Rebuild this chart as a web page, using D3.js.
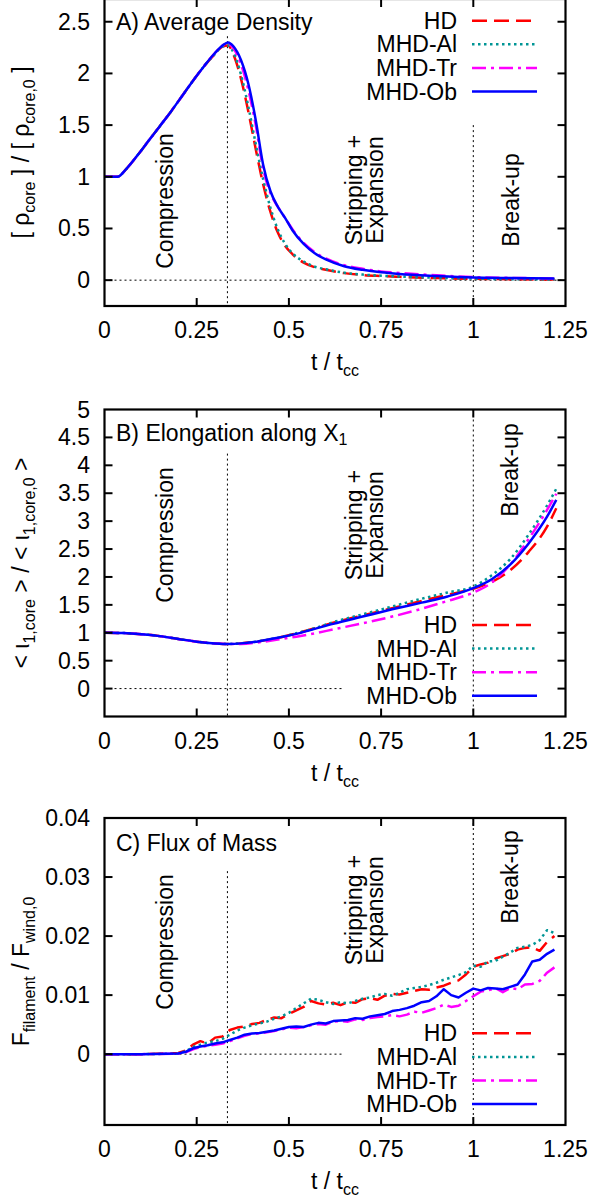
<!DOCTYPE html>
<html><head><meta charset="utf-8">
<script src="https://cdn.jsdelivr.net/npm/d3@7"></script>
<style>
body{margin:0;background:#fff}
text{font-family:"Liberation Sans",Arial,Helvetica,sans-serif;fill:#000}
</style>
</head><body>
<svg id="chart" width="601" height="1200"></svg>
<script>
// ---------- shared ----------
const xTicks = [0, 0.25, 0.5, 0.75, 1, 1.25];
const xTickLabels = ["0", "0.25", "0.5", "0.75", "1", "1.25"];
const seriesNames = ["HD", "MHD-Al", "MHD-Tr", "MHD-Ob"];
const phaseTimes = [1/3, 1];

// ---------- Panel A: average density ----------
const tA = [0, 0.035, 0.06, 0.09, 0.12, 0.15, 0.18, 0.21, 0.24, 0.27, 0.30, 0.32, 0.335, 0.35, 0.37, 0.39, 0.41, 0.43, 0.45, 0.47, 0.49, 0.51, 0.54, 0.57, 0.60, 0.65, 0.70, 0.75, 0.80, 0.90, 1.00, 1.10, 1.22];
const densHD = [1, 1, 1.08, 1.21, 1.35, 1.49, 1.63, 1.78, 1.93, 2.07, 2.19, 2.26, 2.27, 2.18, 1.95, 1.63, 1.27, 0.93, 0.66, 0.46, 0.33, 0.25, 0.17, 0.125, 0.1, 0.068, 0.05, 0.04, 0.032, 0.02, 0.013, 0.009, 0.006];
const densAl = [1, 1, 1.08, 1.21, 1.35, 1.49, 1.63, 1.78, 1.93, 2.07, 2.19, 2.26, 2.27, 2.2, 1.99, 1.68, 1.32, 0.98, 0.7, 0.49, 0.35, 0.26, 0.18, 0.13, 0.105, 0.072, 0.054, 0.043, 0.035, 0.023, 0.015, 0.01, 0.007];
const densTr = [1, 1, 1.08, 1.21, 1.35, 1.49, 1.63, 1.78, 1.93, 2.07, 2.2, 2.27, 2.29, 2.24, 2.09, 1.84, 1.5, 1.08, 0.84, 0.71, 0.6, 0.49, 0.36, 0.27, 0.21, 0.145, 0.11, 0.085, 0.07, 0.048, 0.03, 0.022, 0.017];
const densOb = [1, 1, 1.08, 1.21, 1.35, 1.49, 1.63, 1.78, 1.93, 2.07, 2.2, 2.27, 2.3, 2.26, 2.13, 1.9, 1.55, 1.12, 0.86, 0.71, 0.6, 0.48, 0.35, 0.26, 0.2, 0.135, 0.1, 0.076, 0.06, 0.04, 0.025, 0.02, 0.015];
const yTicksA = [0, 0.5, 1, 1.5, 2, 2.5];
const yTickLabelsA = ["0", "0.5", "1", "1.5", "2", "2.5"];

// ---------- Panel B: elongation ----------
const tB = [0, 0.05, 0.1, 0.15, 0.2, 0.25, 0.3, 0.335, 0.37, 0.42, 0.47, 0.52, 0.57, 0.62, 0.7, 0.78, 0.86, 0.93, 1.0, 1.05, 1.1, 1.15, 1.2, 1.225];
const elonHD = [1, 0.995, 0.975, 0.94, 0.89, 0.84, 0.81, 0.80, 0.81, 0.85, 0.91, 0.99, 1.08, 1.18, 1.31, 1.44, 1.57, 1.68, 1.79, 1.91, 2.12, 2.45, 2.9, 3.23];
const elonAl = [1, 0.995, 0.975, 0.94, 0.89, 0.84, 0.81, 0.80, 0.81, 0.85, 0.91, 0.99, 1.08, 1.19, 1.33, 1.47, 1.61, 1.72, 1.83, 2.03, 2.32, 2.76, 3.28, 3.58];
const elonTr = [1, 0.995, 0.975, 0.94, 0.89, 0.84, 0.81, 0.80, 0.80, 0.83, 0.88, 0.93, 0.99, 1.06, 1.17, 1.29, 1.43, 1.57, 1.72, 1.9, 2.22, 2.68, 3.2, 3.49];
const elonOb = [1, 0.995, 0.975, 0.94, 0.89, 0.84, 0.81, 0.80, 0.81, 0.85, 0.91, 0.98, 1.07, 1.16, 1.29, 1.42, 1.54, 1.65, 1.8, 1.96, 2.22, 2.6, 3.08, 3.38];
const yTicksB = [0, 0.5, 1, 1.5, 2, 2.5, 3, 3.5, 4, 4.5, 5];
const yTickLabelsB = ["0", "0.5", "1", "1.5", "2", "2.5", "3", "3.5", "4", "4.5", "5"];

// ---------- Panel C: mass flux ----------
const tC = [0, 0.1, 0.2, 0.22, 0.24, 0.26, 0.28, 0.30, 0.32, 0.34, 0.36, 0.38, 0.40, 0.42, 0.44, 0.46, 0.48, 0.50, 0.52, 0.54, 0.56, 0.58, 0.60, 0.62, 0.64, 0.66, 0.68, 0.70, 0.72, 0.74, 0.76, 0.78, 0.80, 0.82, 0.84, 0.86, 0.88, 0.90, 0.92, 0.94, 0.96, 0.98, 1.00, 1.02, 1.04, 1.06, 1.08, 1.10, 1.12, 1.14, 1.16, 1.18, 1.20, 1.22];
const fluxHD = [0, 0, 0.0002, 0.0006, 0.0016, 0.0022, 0.0018, 0.0028, 0.0030, 0.0041, 0.0045, 0.0047, 0.0051, 0.0053, 0.0058, 0.0062, 0.0061, 0.0068, 0.0074, 0.0080, 0.0090, 0.0086, 0.0084, 0.0087, 0.0083, 0.0088, 0.0087, 0.0093, 0.0095, 0.0092, 0.0099, 0.0102, 0.0101, 0.0104, 0.0107, 0.0110, 0.0109, 0.0113, 0.0116, 0.0121, 0.0125, 0.0135, 0.0148, 0.0152, 0.0155, 0.0162, 0.0166, 0.0170, 0.0177, 0.0180, 0.0181, 0.0175, 0.0190, 0.0200];
const fluxAl = [0, 0, 0.0001, 0.0005, 0.0012, 0.0016, 0.0020, 0.0022, 0.0026, 0.0033, 0.0040, 0.0045, 0.0049, 0.0052, 0.0055, 0.0060, 0.0064, 0.0070, 0.0078, 0.0086, 0.0094, 0.0092, 0.0088, 0.0085, 0.0088, 0.0086, 0.0090, 0.0094, 0.0096, 0.0100, 0.0102, 0.0099, 0.0104, 0.0110, 0.0112, 0.0114, 0.0117, 0.0121, 0.0126, 0.0130, 0.0134, 0.0139, 0.0150, 0.0148, 0.0157, 0.0158, 0.0165, 0.0172, 0.0180, 0.0182, 0.0185, 0.0193, 0.0210, 0.0205];
const fluxTr = [0, 0, 0.0001, 0.0003, 0.0008, 0.0012, 0.0014, 0.0016, 0.0018, 0.0022, 0.0027, 0.0031, 0.0034, 0.0035, 0.0037, 0.0039, 0.0042, 0.0045, 0.0044, 0.0046, 0.0049, 0.0051, 0.0050, 0.0055, 0.0056, 0.0055, 0.0059, 0.0058, 0.0061, 0.0063, 0.0064, 0.0066, 0.0064, 0.0067, 0.0072, 0.0070, 0.0074, 0.0078, 0.0084, 0.0080, 0.0082, 0.0090, 0.0098, 0.0106, 0.0108, 0.0112, 0.0105, 0.0112, 0.0110, 0.0118, 0.0119, 0.0124, 0.0138, 0.0147];
const fluxOb = [0, 0, 0.0001, 0.0004, 0.0010, 0.0013, 0.0015, 0.0018, 0.0020, 0.0024, 0.0028, 0.0033, 0.0035, 0.0036, 0.0038, 0.0040, 0.0043, 0.0046, 0.0047, 0.0046, 0.0050, 0.0053, 0.0052, 0.0056, 0.0057, 0.0058, 0.0061, 0.0060, 0.0064, 0.0066, 0.0068, 0.0073, 0.0075, 0.0078, 0.0082, 0.0088, 0.0090, 0.0098, 0.0110, 0.0100, 0.0096, 0.0104, 0.0111, 0.0108, 0.0112, 0.0111, 0.0110, 0.0114, 0.0118, 0.0135, 0.0157, 0.0160, 0.0170, 0.0177];
const yTicksC = [0, 0.01, 0.02, 0.03, 0.04];
const yTickLabelsC = ["0", "0.01", "0.02", "0.03", "0.04"];

// ---------- styles ----------
const seriesStyle = [
  {color: "#ff0000", dash: "15,7"},
  {color: "#009595", dash: "2.5,3.5"},
  {color: "#ff00ff", dash: "14,5,3,5"},
  {color: "#0000ff", dash: null}
];
const FONT = 23, SUB = 16;

const svg = d3.select("#chart");
svg.append("rect").attr("width", 601).attr("height", 1200).attr("fill", "#fff");

function rich(sel, parts) {
  parts.forEach(([txt, sub], i) => {
    const prevSub = i > 0 && parts[i-1][1];
    const ts = sel.append("tspan").text(txt);
    if (sub) ts.attr("font-size", SUB).attr("dy", prevSub ? 0 : 6);
    else if (prevSub) ts.attr("dy", -6);
  });
}

function panel(cfg) {
  const x = d3.scaleLinear().domain([0, 1.25]).range([104.5, 565.5]);
  const y = d3.scaleLinear().domain(cfg.yDomain).range(cfg.yRange);
  const g = svg.append("g");
  const [x0, x1] = x.range();
  const yb = cfg.yRange[0], yt = cfg.yRange[1];

  // helper dotted lines
  const dotted = (xa, ya, xb, yb2) => g.append("line").attr("x1", xa).attr("y1", ya).attr("x2", xb).attr("y2", yb2)
    .attr("stroke", "#000").attr("stroke-width", 1).attr("stroke-dasharray", "2,3");
  dotted(x(0), y(0), x(cfg.zeroLineEnd), y(0));
  dotted(x(phaseTimes[0]), y(cfg.phaseTop[0]), x(phaseTimes[0]), yb);
  dotted(x(phaseTimes[1]), y(cfg.phaseTop[1]), x(phaseTimes[1]), yb);

  // phase labels
  const vtext = (cx, cy, lines) => {
    lines.forEach((ln, i) => {
      g.append("text").attr("transform", `translate(${cx + (i - (lines.length-1)/2) * 21},${cy}) rotate(-90)`)
        .attr("text-anchor", "middle").attr("dominant-baseline", "central")
        .attr("font-size", FONT).text(ln);
    });
  };
  vtext(cfg.phasePos[0][0], cfg.phasePos[0][1], ["Compression"]);
  vtext(cfg.phasePos[1][0], cfg.phasePos[1][1], ["Stripping +", "Expansion"]);
  vtext(cfg.phasePos[2][0], cfg.phasePos[2][1], ["Break-up"]);

  // series
  const line = d3.line().x(d => x(d[0])).y(d => y(d[1])).curve(cfg.curve);
  cfg.series.forEach((vals, i) => {
    const pts = cfg.t.map((t, j) => [t, vals[j]]);
    const p = g.append("path").attr("d", line(pts)).attr("fill", "none")
      .attr("stroke", seriesStyle[i].color).attr("stroke-width", 2.5).attr("stroke-linejoin", "round");
    if (seriesStyle[i].dash) p.attr("stroke-dasharray", seriesStyle[i].dash);
  });

  // legend
  seriesNames.forEach((nm, i) => {
    const ly = cfg.legendY + i * 23.6;
    g.append("text").attr("x", 457).attr("y", ly).attr("text-anchor", "end")
      .attr("dominant-baseline", "central").attr("font-size", FONT).text(nm);
    const l = g.append("line").attr("x1", 472).attr("x2", 537).attr("y1", ly).attr("y2", ly)
      .attr("stroke", seriesStyle[i].color).attr("stroke-width", 2.5);
    if (seriesStyle[i].dash) l.attr("stroke-dasharray", seriesStyle[i].dash);
  });

  // frame
  g.append("rect").attr("x", x0).attr("y", yt).attr("width", x1 - x0).attr("height", yb - yt)
    .attr("fill", "none").attr("stroke", "#000").attr("stroke-width", 2.2);

  // ticks
  const T = 8;
  xTicks.forEach((v, i) => {
    const xx = x(v);
    if (v > 0 && v < 1.25) {
      g.append("line").attr("x1", xx).attr("x2", xx).attr("y1", yb).attr("y2", yb - T).attr("stroke", "#000").attr("stroke-width", 2);
      g.append("line").attr("x1", xx).attr("x2", xx).attr("y1", yt).attr("y2", yt + T).attr("stroke", "#000").attr("stroke-width", 2);
    }
    g.append("text").attr("x", xx).attr("y", yb + 24).attr("text-anchor", "middle")
      .attr("dominant-baseline", "central").attr("font-size", FONT).text(xTickLabels[i]);
  });
  cfg.yTicks.forEach((v, i) => {
    const yy = y(v);
    if (yy > yt + 1 && yy < yb - 1) {
      g.append("line").attr("x1", x0).attr("x2", x0 + T).attr("y1", yy).attr("y2", yy).attr("stroke", "#000").attr("stroke-width", 2);
      g.append("line").attr("x1", x1).attr("x2", x1 - T).attr("y1", yy).attr("y2", yy).attr("stroke", "#000").attr("stroke-width", 2);
    }
    g.append("text").attr("x", 90).attr("y", yy).attr("text-anchor", "end")
      .attr("dominant-baseline", "central").attr("font-size", FONT).text(cfg.yTickLabels[i]);
  });

  // titles
  const tt = g.append("text").attr("x", 116).attr("y", cfg.titleY).attr("dominant-baseline", "central").attr("font-size", FONT);
  rich(tt, cfg.title);
  const xl = g.append("text").attr("x", (x0 + x1) / 2).attr("y", yb + 64).attr("text-anchor", "middle").attr("font-size", FONT);
  rich(xl, [["t / t", false], ["cc", true]]);
  const yl = g.append("text").attr("transform", `translate(29,${(yb + yt) / 2}) rotate(-90)`)
    .attr("text-anchor", "middle").attr("font-size", FONT);
  rich(yl, cfg.yLabel);
}

panel({
  yDomain: [-0.25, 2.72], yRange: [306, -1],
  t: tA, series: [densHD, densAl, densTr, densOb], curve: d3.curveMonotoneX,
  yTicks: yTicksA, yTickLabels: yTickLabelsA,
  zeroLineEnd: 1.25, phaseTop: [2.36, 1.5],
  phasePos: [[165, 201], [364, 190], [511, 200]],
  legendY: 20.7, titleY: 22,
  title: [["A) Average Density", false]],
  yLabel: [["[ ρ", false], ["core", true], [" ] / [ ρ", false], ["core,0", true], [" ]", false]]
});
panel({
  yDomain: [-0.5, 5], yRange: [716.5, 409.5],
  t: tB, series: [elonHD, elonAl, elonTr, elonOb], curve: d3.curveMonotoneX,
  yTicks: yTicksB, yTickLabels: yTickLabelsB,
  zeroLineEnd: 0.65, phaseTop: [4.21, 5],
  phasePos: [[165, 535], [364, 525], [510, 470]],
  legendY: 625, titleY: 433,
  title: [["B) Elongation along X", false], ["1", true]],
  yLabel: [["< ι", false], ["1,core", true], [" > / < ι", false], ["1,core,0", true], [" >", false]]
});
panel({
  yDomain: [-0.012, 0.04], yRange: [1125, 818],
  t: tC, series: [fluxHD, fluxAl, fluxTr, fluxOb], curve: d3.curveLinear,
  yTicks: yTicksC, yTickLabels: yTickLabelsC,
  zeroLineEnd: 0.65, phaseTop: [0.031, 0.04],
  phasePos: [[165, 942], [364, 910], [510, 877]],
  legendY: 1033.3, titleY: 842.7,
  title: [["C) Flux of Mass", false]],
  yLabel: [["F", false], ["filament", true], [" / F", false], ["wind,0", true]]
});
</script>
</body></html>
